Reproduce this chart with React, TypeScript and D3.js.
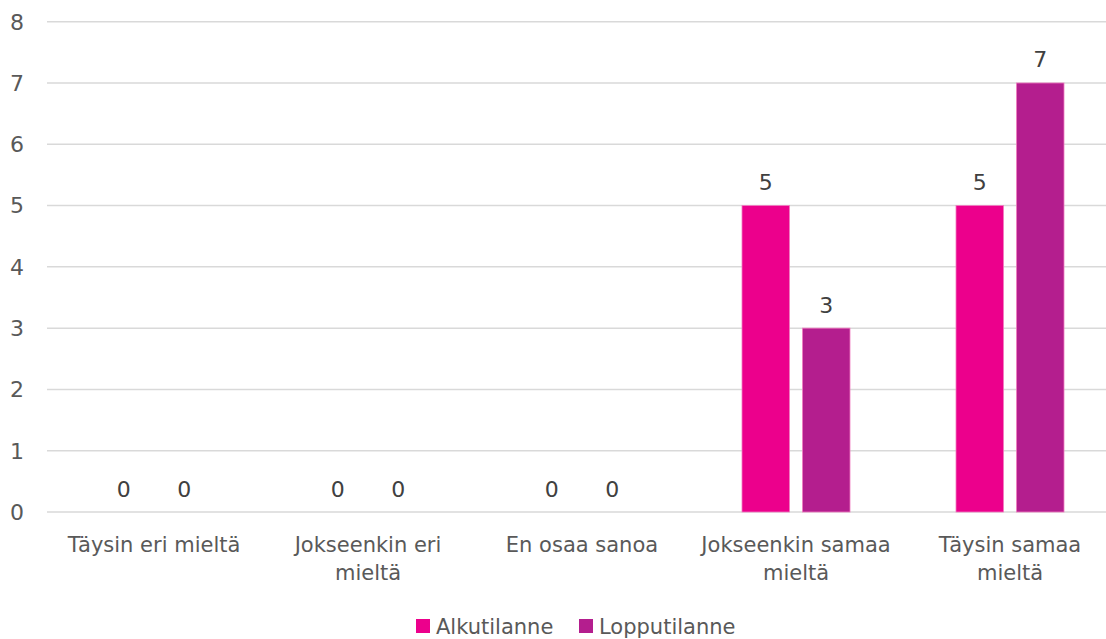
import React from "react";
import * as d3 from "d3";

const categories = ["Täysin eri mieltä", "Jokseenkin eri\nmieltä", "En osaa sanoa", "Jokseenkin samaa\nmieltä", "Täysin samaa\nmieltä"];
const seriesNames = ["Alkutilanne", "Lopputilanne"];
const alkutilanne = [0, 0, 0, 5, 5];
const lopputilanne = [0, 0, 0, 3, 7];
const yTicks = [0, 1, 2, 3, 4, 5, 6, 7, 8];
const colors = ["#EC008C", "#B41E8E"];

const W = 1106;
const H = 639;
const FONT = "'DejaVu Sans', Verdana, sans-serif";
const TXT = "#595959";

export default function App() {
  const x = d3.scaleBand<string>().domain(categories).range([47, 1117]).paddingInner(0).paddingOuter(0);
  const step = x.bandwidth();
  const inner = d3.scaleBand<string>().domain(seriesNames).range([53, step - 53]).paddingInner(0.215);
  const y = d3.scaleLinear().domain([0, 8]).range([512, 21.7]);
  const series = [alkutilanne, lopputilanne];

  return (
    <svg width={W} height={H} style={{ position: "absolute", left: 0, top: 0, background: "#fff" }}>
      {yTicks.map((t) => (
        <g key={t}>
          <line x1={47} x2={1117} y1={y(t)} y2={y(t)} stroke="#D9D9D9" strokeWidth={1.5} />
          <text x={24} y={y(t)} dy="0.36em" textAnchor="end" fontFamily={FONT} fontSize={22} fill={TXT}>{t}</text>
        </g>
      ))}
      {categories.map((c, i) => (
        <g key={c} transform={`translate(${x(c)},0)`}>
          {seriesNames.map((s, j) => {
            const v = series[j][i];
            const bx = inner(s)!;
            return (
              <g key={s}>
                {v > 0 && (
                  <rect x={bx} y={y(v)} width={inner.bandwidth()} height={y(0) - y(v)} fill={colors[j]} stroke="#F07CC0" strokeWidth={0.8} />
                )}
                <text x={bx + inner.bandwidth() / 2} y={y(v) - 15.5} textAnchor="middle" fontFamily={FONT} fontSize={22} fill="#404040">{v}</text>
              </g>
            );
          })}
          {c.split("\n").map((line, k) => (
            <text key={k} x={step / 2} y={552 + k * 28} textAnchor="middle" fontFamily={FONT} fontSize={21} fill={TXT}>{line}</text>
          ))}
        </g>
      ))}
      {(() => {
        const items = [
          { name: seriesNames[0], sx: 416, tx: 436 },
          { name: seriesNames[1], sx: 579, tx: 599 },
        ];
        return items.map((it, j) => (
          <g key={it.name}>
            <rect x={it.sx} y={619} width={14} height={14} fill={colors[j]} />
            <text x={it.tx} y={634} fontFamily={FONT} fontSize={21} fill={TXT}>{it.name}</text>
          </g>
        ));
      })()}
    </svg>
  );
}
